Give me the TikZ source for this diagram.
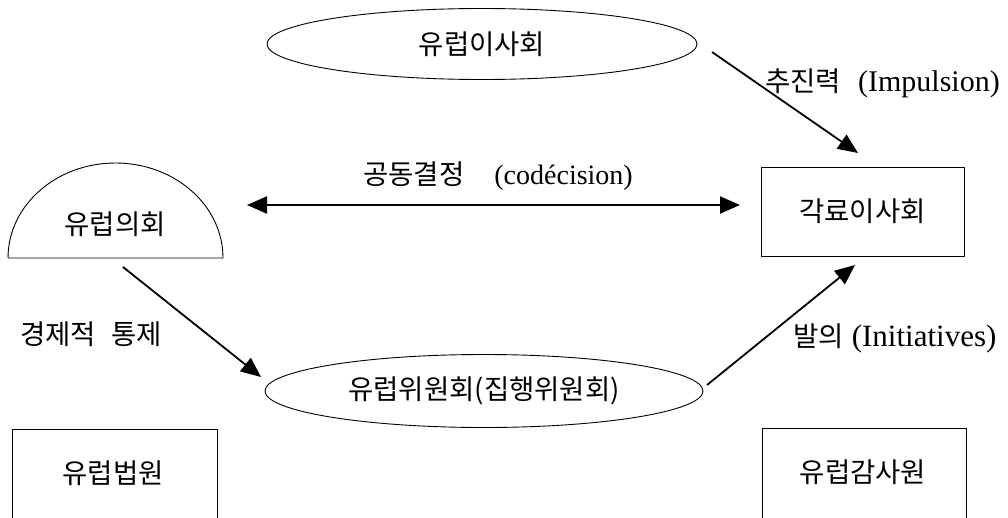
\documentclass[tikz,border=0pt]{standalone}
\usepackage{fontspec}
\setmainfont{Liberation Serif}
\newfontfamily\krf{Noto Sans CJK KR}
\usetikzlibrary{arrows.meta,shapes.geometric}
\begin{document}
\begin{tikzpicture}[x=1pt,y=-1pt,
  every node/.style={inner sep=0pt, font=\fontsize{27.5}{32}\selectfont},
  oval/.style={draw, ellipse, line width=0.9pt},
  boxn/.style={draw, rectangle, line width=0.9pt},
  conn/.style={line width=1.8pt, -{Triangle[length=20pt,width=17pt]}},
  dconn/.style={line width=2.2pt, {Triangle[length=20pt,width=17pt]}-{Triangle[length=20pt,width=17pt]}},
  ]
\useasboundingbox (0,0) rectangle (1008,517);
\fill[white] (0,0) rectangle (1008,517);

% nodes
\node[oval, minimum width=430pt, minimum height=71pt] (council) at (482,44) {\krf 유럽이사회};
\draw[line width=0.9pt] (8,258) -- (223,258) arc[start angle=0, end angle=180, x radius=107.5pt, y radius=95pt];
\node (parl) at (115,224) {\krf 유럽의회};
\node[boxn, minimum width=203pt, minimum height=89pt] (cabinet) at (862.5,211.5) {\krf 각료이사회};
\node[oval, minimum width=438pt, minimum height=73pt] (commission) at (484,391) {\krf 유럽위원회(집행위원회)};
\node[boxn, minimum width=205pt, minimum height=120pt, anchor=north] (court) at (114.5,429) {};
\node (courtlbl) at (113,473) {\krf 유럽법원};
\node[boxn, minimum width=204pt, minimum height=120pt, anchor=north] (audit) at (864,428) {};
\node (auditlbl) at (863,472) {\krf 유럽감사원};

% connector ends
\coordinate (impA) at (712,52);
\coordinate (impB) at (858,153);
\coordinate (codA) at (247,205);
\coordinate (codB) at (740,205);
\coordinate (ctlA) at (123,267);
\coordinate (ctlB) at (261,377);
\coordinate (iniA) at (707,385);
\coordinate (iniB) at (855,265);

\draw[conn] (impA) -- (impB);
\draw[dconn] (codA) -- (codB);
\draw[conn] (ctlA) -- (ctlB);
\draw[conn] (iniA) -- (iniB);

% labels
\node[anchor=west] (lblimp) at (765,83) {{\krf 추진력}\hspace{17pt}{\fontsize{30}{34}\selectfont (Impulsion)}};
\node[anchor=west] (lblcod) at (363,176) {{\krf 공동결정}\hspace{30pt}{\fontsize{28}{32}\selectfont (codécision)}};
\node[anchor=west] (lblctl) at (20,334) {{\krf 경제적}\hspace{15pt}{\krf 통제}};
\node[anchor=west] (lblini) at (793,338) {{\krf 발의}\hspace{8pt}{\fontsize{31}{35}\selectfont (Initiatives)}};
\end{tikzpicture}
\end{document}
